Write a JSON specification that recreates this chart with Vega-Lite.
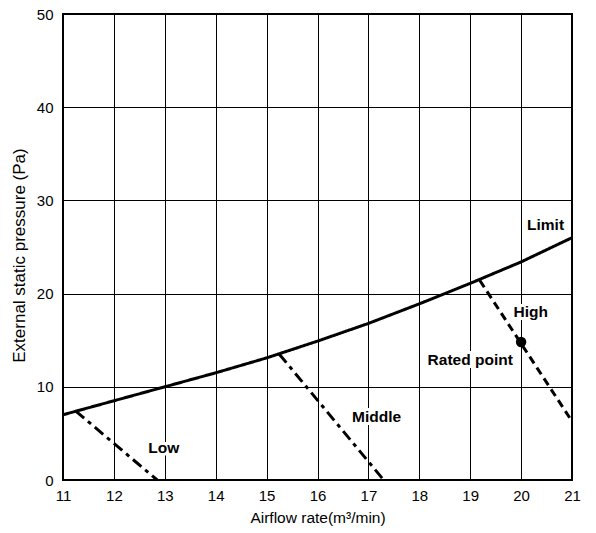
{
  "$schema": "https://vega.github.io/schema/vega-lite/v6.json",
  "width": 509,
  "height": 466,
  "autosize": {"type": "none"},
  "padding": {"left": 63, "top": 14, "right": 24, "bottom": 53},
  "background": "white",
  "config": {
    "view": {"stroke": "black", "strokeWidth": 2},
    "font": "Liberation Sans",
    "axis": {
      "grid": true, "gridColor": "black", "gridOpacity": 1, "gridWidth": 1,
      "domain": false, "ticks": false, "labelFlush": false, "labelOverlap": false,
      "labelFont": "Liberation Sans", "labelFontSize": 15, "labelColor": "black",
      "titleFont": "Liberation Sans", "titleFontSize": 15, "titleFontWeight": "normal", "titleColor": "black"
    }
  },
  "datasets": {
    "lines": [
      {"series": "Limit", "x": 11, "y": 7.0},
      {"series": "Limit", "x": 12, "y": 8.5},
      {"series": "Limit", "x": 13, "y": 10.0},
      {"series": "Limit", "x": 14, "y": 11.5},
      {"series": "Limit", "x": 15, "y": 13.1},
      {"series": "Limit", "x": 16, "y": 14.9},
      {"series": "Limit", "x": 17, "y": 16.8},
      {"series": "Limit", "x": 18, "y": 18.9},
      {"series": "Limit", "x": 19, "y": 21.1},
      {"series": "Limit", "x": 20, "y": 23.4},
      {"series": "Limit", "x": 21, "y": 26.0},
      {"series": "Low", "x": 11.25, "y": 7.4},
      {"series": "Low", "x": 12.85, "y": 0},
      {"series": "Middle", "x": 15.25, "y": 13.5},
      {"series": "Middle", "x": 17.3, "y": 0},
      {"series": "High", "x": 19.19, "y": 21.4},
      {"series": "High", "x": 21, "y": 6.3}
    ],
    "labels": [
      {"label": "Limit", "x": 20.48, "y": 27.35},
      {"label": "High", "x": 20.19, "y": 18.05},
      {"label": "Rated point", "x": 19.0, "y": 12.9},
      {"label": "Middle", "x": 17.16, "y": 6.76},
      {"label": "Low", "x": 12.98, "y": 3.4}
    ],
    "point": [{"x": 20, "y": 14.8}]
  },
  "layer": [
    {
      "data": {"name": "lines"},
      "mark": {"type": "line", "color": "black", "strokeWidth": 3, "strokeCap": "butt"},
      "encoding": {
        "x": {"field": "x", "type": "quantitative", "scale": {"domain": [11, 21], "nice": false, "zero": false},
              "axis": {"values": [11,12,13,14,15,16,17,18,19,20,21], "labelPadding": 8, "title": "Airflow rate(m³/min)", "titlePadding": 7, "titleFontSize": 15.5}},
        "y": {"field": "y", "type": "quantitative", "scale": {"domain": [0, 50], "nice": false},
              "axis": {"values": [0,10,20,30,40,50], "labelPadding": 10, "title": "External static pressure (Pa)", "titlePadding": 8, "titleFontSize": 17, "titleY": 241}},
        "detail": {"field": "series"},
        "strokeDash": {"field": "series", "type": "nominal", "legend": null,
          "scale": {"domain": ["Limit", "Low", "Middle", "High"], "range": [[1, 0], [11, 5, 4, 5], [11, 5, 4, 5], [8, 5]]}}
      }
    },
    {
      "data": {"name": "point"},
      "mark": {"type": "circle", "color": "black", "size": 110, "opacity": 1},
      "encoding": {
        "x": {"field": "x", "type": "quantitative"},
        "y": {"field": "y", "type": "quantitative"}
      }
    },
    {
      "data": {"name": "labels"},
      "mark": {"type": "text", "fontSize": 15.5, "fontWeight": "bold", "color": "white", "stroke": "white", "strokeWidth": 6, "font": "Liberation Sans"},
      "encoding": {
        "x": {"field": "x", "type": "quantitative"},
        "y": {"field": "y", "type": "quantitative"},
        "text": {"field": "label"}
      }
    },
    {
      "data": {"name": "labels"},
      "mark": {"type": "text", "fontSize": 15.5, "fontWeight": "bold", "color": "black", "font": "Liberation Sans"},
      "encoding": {
        "x": {"field": "x", "type": "quantitative"},
        "y": {"field": "y", "type": "quantitative"},
        "text": {"field": "label"}
      }
    }
  ]
}
